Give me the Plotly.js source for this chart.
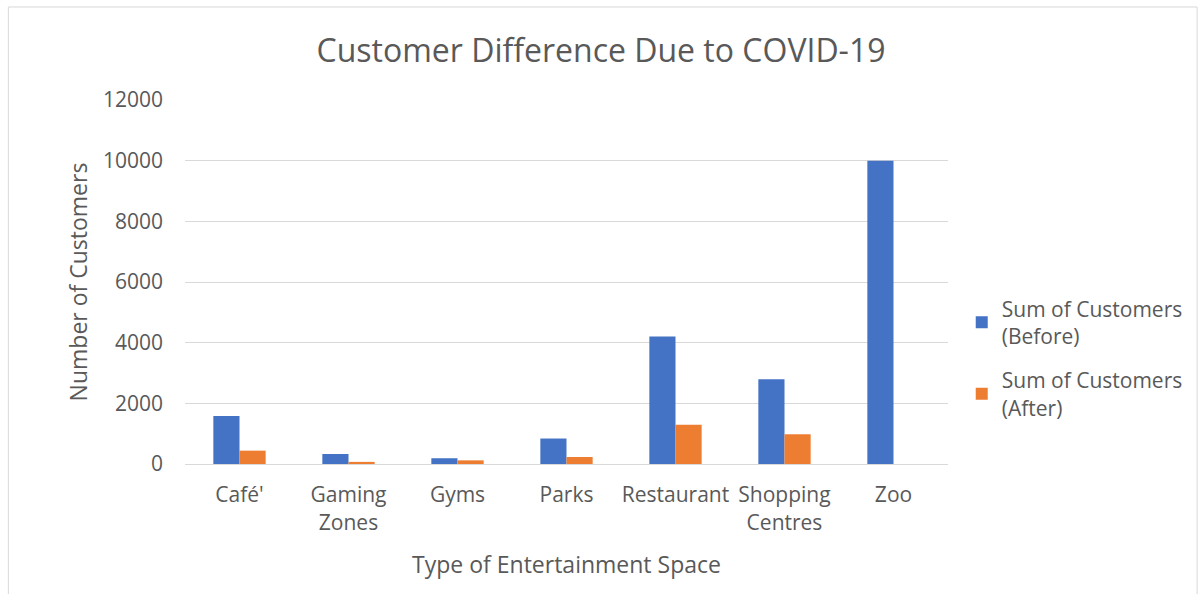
<!DOCTYPE html>
<html>
<head>
<meta charset="utf-8">
<script src="https://cdn.plot.ly/plotly-3.0.1.min.js"></script>
<style>html,body{margin:0;padding:0;background:#fff;}#chart{width:1202px;height:594px;}</style>
</head>
<body>
<div id="chart"></div>
<script>
const categories = ["Café'", "Gaming<br>Zones", "Gyms", "Parks", "Restaurant", "Shopping<br>Centres", "Zoo"];
const before = [1580, 330, 190, 840, 4200, 2790, 10000];
const after = [440, 70, 120, 230, 1290, 980, 0];
const seriesNames = ["Sum of Customers<br>(Before)", "Sum of Customers<br>(After)"];
const yTicks = [0, 2000, 4000, 6000, 8000, 10000, 12000];

const font = "'Open Sans', sans-serif";
const textColor = "#595959";

const traces = [
  {type: "bar", x: categories, y: before, name: seriesNames[0], legendgroup: "before", marker: {color: "#4472C4"}},
  {type: "bar", x: categories, y: after, name: seriesNames[1], legendgroup: "after", marker: {color: "#ED7D31"}}
];

const layout = {
  width: 1202, height: 594,
  margin: {l: 185, r: 254, t: 100, b: 130, autoexpand: false},
  paper_bgcolor: "#fff", plot_bgcolor: "#fff",
  font: {family: font, color: textColor, size: 21},
  title: {text: "Customer Difference Due to COVID-19", font: {size: 32, color: textColor}, x: 0.5, xanchor: "center", y: 0.915, yanchor: "middle"},
  barmode: "group", bargap: 0.52, bargroupgap: 0,
  xaxis: {
    title: {text: "Type of Entertainment Space", font: {size: 23, color: textColor}, standoff: 22},
    tickfont: {size: 21, color: textColor}, ticklabelstandoff: 12,
    showline: true, linecolor: "#d9d9d9", linewidth: 1, ticks: "", fixedrange: true
  },
  yaxis: {
    title: {text: "Number of Customers", font: {size: 23, color: textColor}, standoff: 8},
    range: [0, 12000], tickvals: yTicks, ticktext: yTicks.map(String),
    tickfont: {size: 21, color: textColor}, ticklabelstandoff: 21,
    showgrid: true, gridcolor: "#d9d9d9", gridwidth: 1,
    zeroline: true, zerolinecolor: "#d9d9d9", ticks: "", ticklen: 0, fixedrange: true
  },
  legend: {
    x: 1.018, y: 0.29, xanchor: "left", yanchor: "middle",
    font: {size: 21, color: textColor}, tracegroupgap: 14, itemwidth: 30
  },
  shapes: [
    {type: "rect", xref: "paper", yref: "paper", x0: -0.2315, x1: 1.3265, y0: -0.36, y1: 1.2555,
     line: {color: "#d9d9d9", width: 1}, fillcolor: "rgba(0,0,0,0)", layer: "below"}
  ]
};

Plotly.newPlot("chart", traces, layout, {displayModeBar: false, staticPlot: true});
</script>
</body>
</html>
